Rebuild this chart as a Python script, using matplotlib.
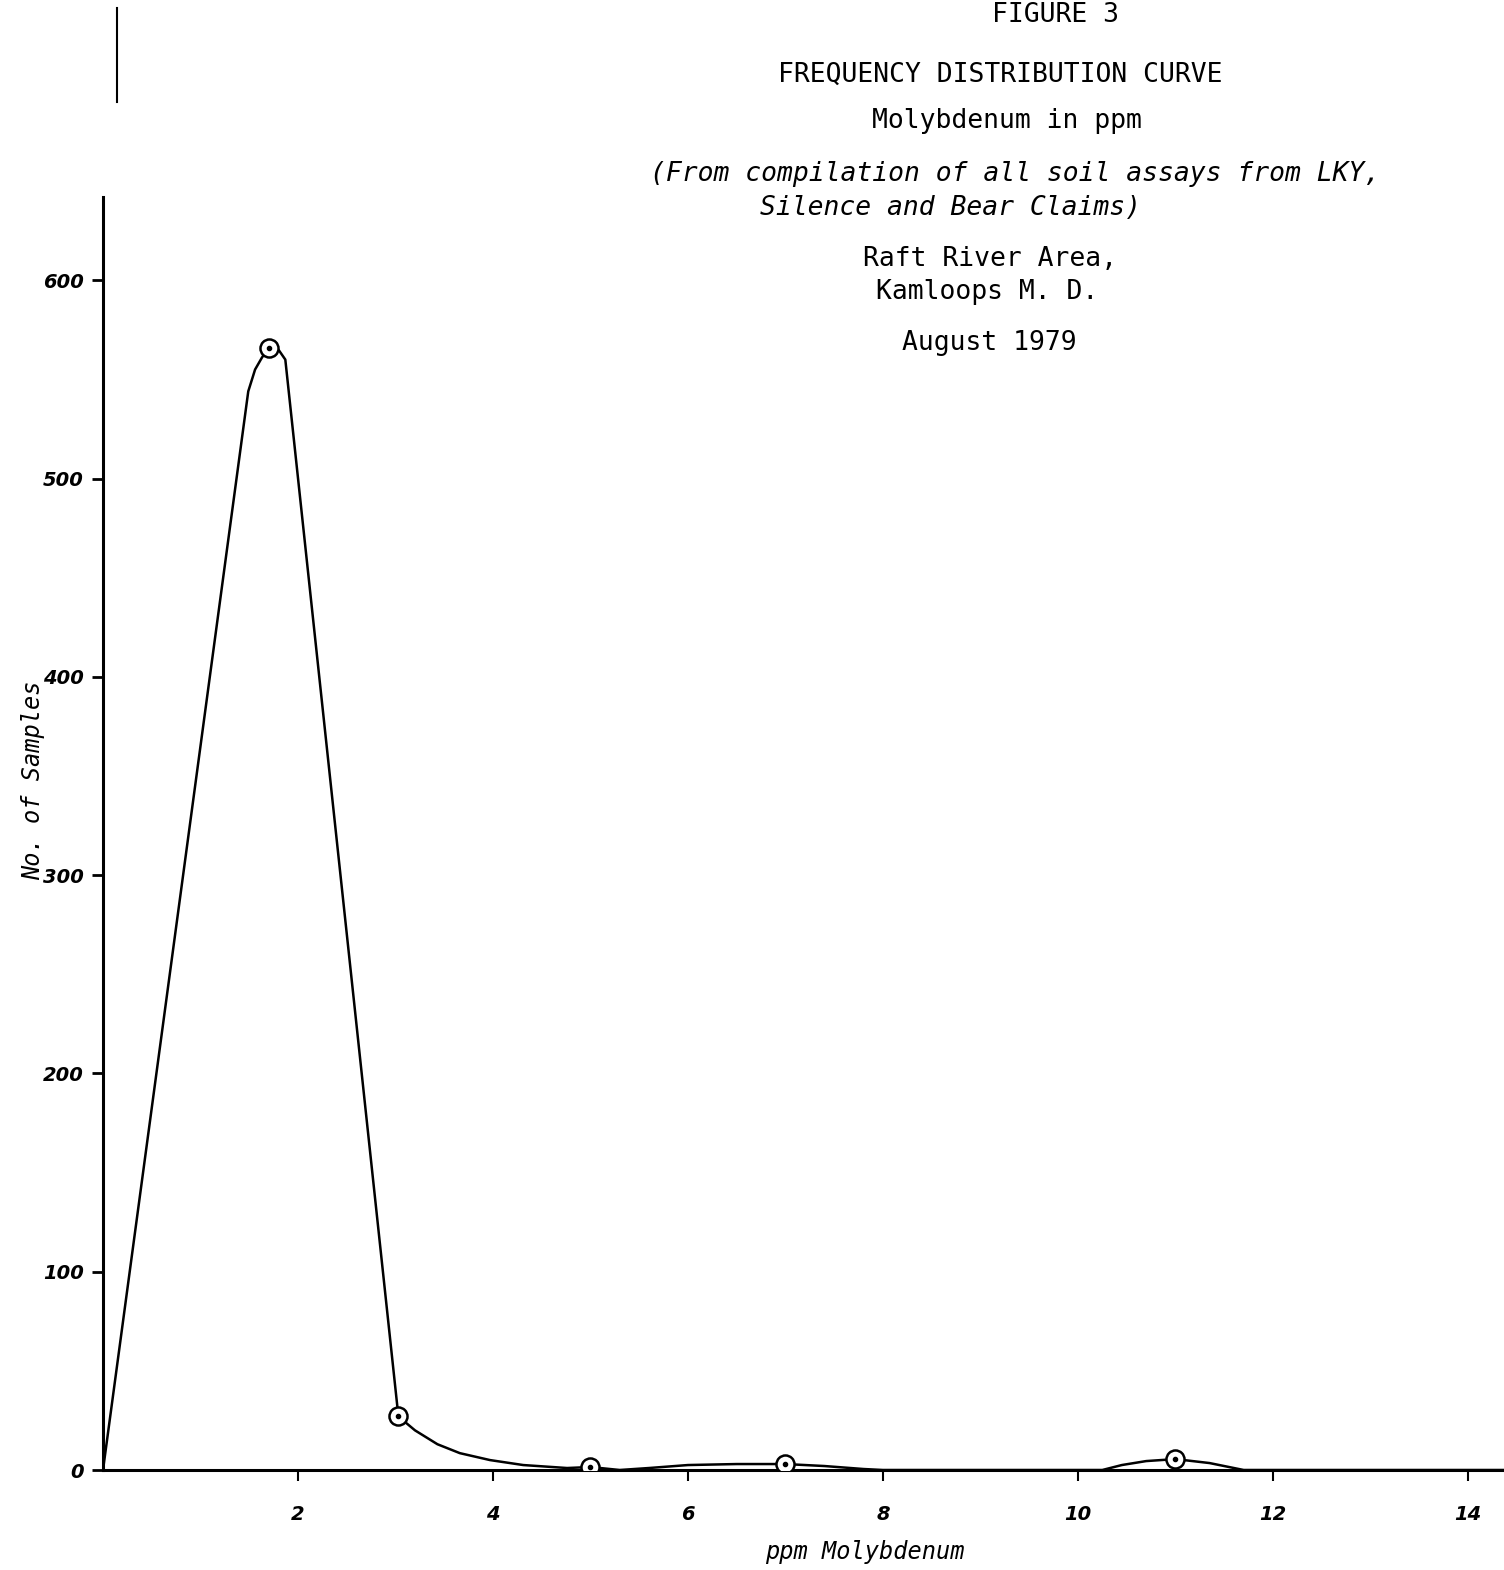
import matplotlib
matplotlib.use("Agg")
import matplotlib.pyplot as plt
from matplotlib.lines import Line2D

# ---- data ----
curve_x = [0, 1.49, 1.56, 1.63, 1.70, 1.80, 1.87, 3.03, 3.20, 3.43, 3.66, 3.97, 4.31,
           4.76, 5.00, 5.30, 5.60, 6.00, 6.50, 7.00, 7.40, 7.80, 8.00, 10.25, 10.45,
           10.70, 11.00, 11.35, 11.70, 14.37]
curve_y = [0, 544, 555, 561, 566, 565, 560, 27, 20, 13, 8.5, 5, 2.5,
           1, 1.5, 0, 1, 2.5, 3, 3, 2, 0.5, 0, 0, 2.5,
           4.5, 5.5, 3.5, 0, 0]
point_x = [1.70, 3.03, 5.0, 7.0, 11.0]
point_y = [566, 27, 1.5, 3, 5.5]
yticks = [0, 100, 200, 300, 400, 500, 600]
ytick_labels = ["0", "100", "200", "300", "400", "500", "600"]
xticks = [2, 4, 6, 8, 10, 12, 14]
xtick_labels = ["2", "4", "6", "8", "10", "12", "14"]

W, H = 1504, 1570
fig = plt.figure(figsize=(W / 100, H / 100), dpi=100)
fig.patch.set_facecolor("white")

ax = fig.add_axes([103 / W, 100 / H, 1401 / W, 1273 / H])
ax.set_xlim(0, 14.37)
ax.set_ylim(0, 642)

ax.plot(curve_x, curve_y, color="black", lw=1.8, solid_joinstyle="round", zorder=3)
ax.plot(point_x, point_y, "o", ms=13, mfc="white", mec="black", mew=1.8, zorder=4)
ax.plot(point_x, point_y, "o", ms=3, color="black", zorder=5)

for s in ["top", "right"]:
    ax.spines[s].set_visible(False)
ax.spines["left"].set_linewidth(2.2)
ax.spines["bottom"].set_linewidth(2.2)

tick_font = dict(family="DejaVu Sans", style="italic", weight="bold", size=14)
ax.set_yticks(yticks)
ax.set_yticklabels(ytick_labels, **tick_font)
ax.set_xticks(xticks)
ax.set_xticklabels(xtick_labels, **tick_font)
ax.tick_params(axis="y", direction="out", length=8, width=2, pad=6)
ax.tick_params(axis="x", direction="out", length=8, width=1.5, pad=17)

mono = "DejaVu Sans Mono"
fig.text(865 / W, 1 - 1552 / H, "ppm Molybdenum", family=mono, style="italic",
         size=17, ha="center", va="center")
fig.text(33 / W, 1 - 780 / H, "No. of Samples", family=mono, style="italic",
         size=17, ha="center", va="center", rotation=90)

titles = [
    ("FIGURE 3", 1055, 15, "normal"),
    ("FREQUENCY DISTRIBUTION CURVE", 1000, 75, "normal"),
    ("Molybdenum in ppm", 1007, 121, "normal"),
    ("(From compilation of all soil assays from LKY,", 1015, 174, "italic"),
    ("Silence and Bear Claims)", 951, 208, "italic"),
    ("Raft River Area,", 990, 259, "normal"),
    ("Kamloops M. D.", 987, 292, "normal"),
    ("August 1979", 989, 343, "normal"),
]
for txt, x, y, st in titles:
    fig.text(x / W, 1 - y / H, txt, family=mono, style=st, size=19,
             ha="center", va="center")

# margin line of the scanned page
fig.add_artist(Line2D([117 / W, 117 / W], [1 - 8 / H, 1 - 102 / H],
                      transform=fig.transFigure, color="black", lw=1.5))

fig.savefig("out.png", dpi=100, facecolor="white")
